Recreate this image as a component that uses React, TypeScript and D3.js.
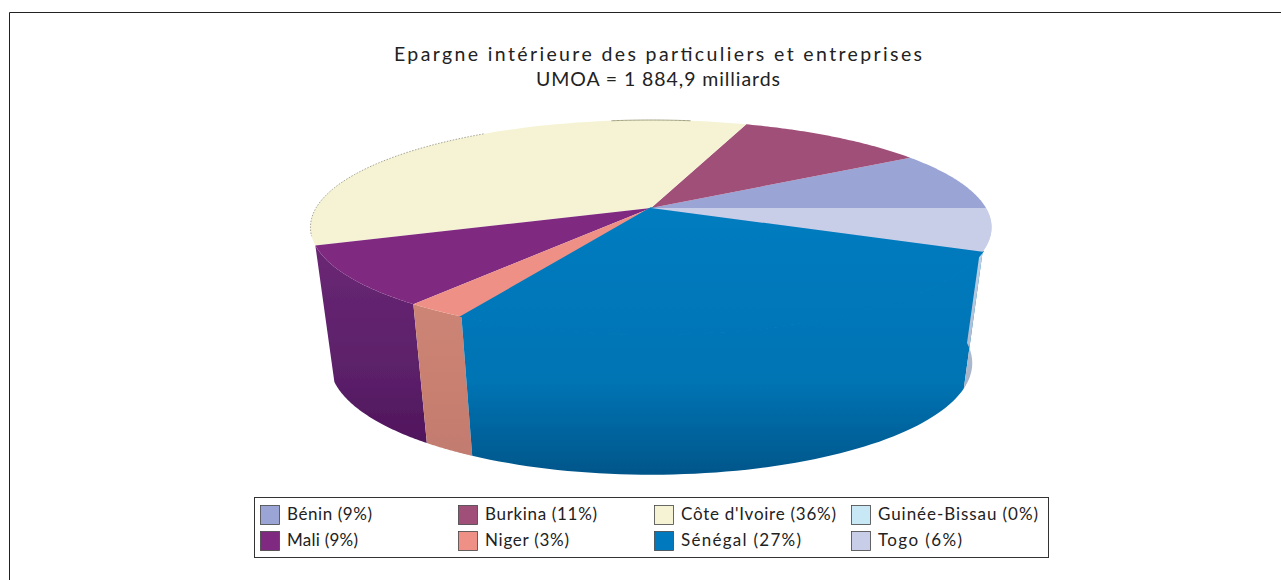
import React from "react";
import * as d3 from "d3";

const titleLines = ["Epargne intérieure des particuliers et entreprises", "UMOA = 1 884,9 milliards"];
const titleWidths = [528, 244];
const countries = ["Bénin", "Burkina", "Côte d'Ivoire", "Guinée-Bissau", "Mali", "Niger", "Sénégal", "Togo"];
const shares = [8.9, 10.7, 35.9, 0, 9.1, 2.5, 26.5, 6.4];
const legendWidths = [85, 112, 155, 160, 71, 84, 120, 84];
const topColors = ["#9aa5d5", "#a04f79", "#f5f3d3", "#c8e8f5", "#7f2a80", "#ee9085", "#0079bf", "#c8cde8"];
const wallTop = ["#9aa5d5", "#8c466b", "#e0ddc0", "#c8e8f5", "#6f2a78", "#d08a7c", "#007cc0", "#c4dcf2"];
const wallMid = ["#8c96c0", "#7c3c60", "#d0cdaf", "#b8d8e5", "#5a1f68", "#c98070", "#0074b4", "#a8b4c8"];
const wallBottom = ["#7c86b0", "#703555", "#c0bd9f", "#a8c8d5", "#4a0f55", "#c07a70", "#00568a", "#9098a8"];

const W = 1281, H = 580;
const TOP = { cx: 651, cy: 208, rx: 335, ry: 103.8, p: 0.18 };
const BOTTOM = { cx: 651, cy: 343, rx: 316, ry: 108, p: 0.18 };

type Face = typeof TOP;
const project = (f: Face, a: number): [number, number] => {
  const c = Math.cos(a), d = -Math.sin(a), w = 1 - f.p * d;
  return [f.cx + (f.rx * c) / w, f.cy + (f.ry * d) / w];
};

export default function App() {
  const pie = d3.pie<number>().sort(null).startAngle(0).endAngle(2 * Math.PI)(shares);
  const line = d3.line();
  const arcPts = (f: Face, a0: number, a1: number) =>
    d3.range(0, 61).map((i) => project(f, a0 + ((a1 - a0) * i) / 60));
  const slices = pie.map((s, i) => ({ i, a0: s.startAngle, a1: s.endAngle }));
  const y0 = TOP.cy, y1 = BOTTOM.cy + BOTTOM.ry / (1 - BOTTOM.p);
  const legendCols = [260, 458, 654, 851];
  const legendRows = [505, 531];
  const deg = (v: number) => (v * Math.PI) / 180;
  const isFlush = (i: number) => countries[i] === "Sénégal";
  return (
    <svg width={W} height={H} style={{ position: "absolute", left: 0, top: 0 }}
      fontFamily="Lato,'Open Sans',sans-serif" fill="#222">
      <defs>
        {slices.map(({ i }) => (
          <linearGradient key={i} id={`w${i}`} gradientUnits="userSpaceOnUse" x1={0} x2={0} y1={y0} y2={y1}>
            <stop offset="0" stopColor={wallTop[i]} />
            <stop offset="0.65" stopColor={wallMid[i]} />
            <stop offset="1" stopColor={wallBottom[i]} />
          </linearGradient>
        ))}
        <filter id="soft" x="-5%" y="-5%" width="110%" height="110%">
          <feGaussianBlur stdDeviation="0.6" />
        </filter>
      </defs>
      <rect width={W} height={H} fill="#fff" />
      <path d={`M9.5 ${H}V12.5H${W}`} fill="none" stroke="#222" />
      {titleLines.map((t, i) => (
        <text key={t} x={658} y={61 + i * 25} textAnchor="middle" fontSize={19.5}
          textLength={titleWidths[i]} lengthAdjust="spacing" fill="#222">{t}</text>
      ))}
      <g filter="url(#soft)">
        {slices.filter((s) => s.a1 > s.a0 && s.a0 > Math.PI).map(({ i, a0, a1 }) => (
          <path key={i} fill={`url(#w${i})`}
            d={line([...arcPts(TOP, a0, a1), ...arcPts(BOTTOM, a0, a1).reverse()])! + "Z"} />
        ))}
        {slices.filter((s) => s.a1 > s.a0).map(({ i, a0, a1 }) => (
          <path key={i} fill={isFlush(i) ? `url(#w${i})` : topColors[i]}
            stroke={isFlush(i) ? `url(#w${i})` : "none"} strokeWidth={1.5}
            d={line([[TOP.cx, TOP.cy], ...arcPts(TOP, a0, a1)])! + "Z"} />
        ))}
        <path d={line(arcPts(TOP, deg(125), deg(195)))!} fill="none"
          stroke="#8f8f80" strokeWidth={0.8} strokeDasharray="1.5 1.5" />
        <path d={line(arcPts(TOP, deg(82), deg(98)))!} fill="none" stroke="#a0a080" strokeWidth={1} />
      </g>
      <rect x={254.5} y={497.5} width={794} height={60} fill="#fff" stroke="#333" />
      {countries.map((c, i) => {
        const x = legendCols[i % 4], y = legendRows[Math.floor(i / 4)];
        return (
          <g key={c}>
            <rect x={x + 0.5} y={y + 0.5} width={19} height={19} fill={topColors[i]} stroke="#444" strokeWidth={0.8} />
            <text x={x + 27} y={y + 15} fontSize={17} textLength={legendWidths[i]} lengthAdjust="spacing" fill="#222">
              {`${c} (${Math.round(shares[i])}%)`}
            </text>
          </g>
        );
      })}
    </svg>
  );
}
